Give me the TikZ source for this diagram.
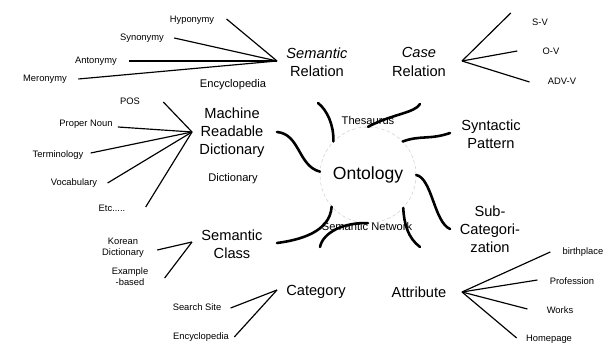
\documentclass[tikz,border=0pt]{standalone}
\usepackage{fontspec}
\setmainfont{Liberation Sans}
\usetikzlibrary{calc}

\begin{document}
\begin{tikzpicture}[
  x=0.03cm, y=-0.03cm,
  major/.style = {align=center, inner sep=1pt,
                  font=\fontsize{12.5}{15.5}\selectfont},
  core/.style  = {circle, draw=black!25, densely dashed, line width=0.3pt,
                  minimum size=2.88cm, inner sep=0pt,
                  font=\fontsize{15}{18}\selectfont},
  src/.style   = {inner sep=1pt, font=\fontsize{9.5}{11}\selectfont},
  leaf/.style  = {inner sep=1pt, align=center,
                  font=\fontsize{8}{9.5}\selectfont},
  spoke/.style = {line width=1pt},
  wave/.style  = {line width=2.2pt, line cap=round},
]
\useasboundingbox (0,0) rectangle (616,347);

% centre and sources
\node[core] (onto)   at (368,175) {Ontology};
\node[src]  (thes)   at (368,121) {Thesaurus};
\node[src]  (semnet) at (367,227) {Semantic Network};
\node[src]  (encyc)  at (233,85)  {Encyclopedia};
\node[src]  (dict)   at (233,179) {Dictionary};

% categories
\node[major] (semrel) at (317,62)  {\textit{Semantic}\\Relation};
\node[major] (case)   at (419,62)  {\textit{Case}\\Relation};
\node[major] (mrd)    at (232,133) {Machine\\Readable\\Dictionary};
\node[major] (synt)   at (491,134) {Syntactic\\Pattern};
\node[major] (subcat) at (490,229) {Sub-\\Categori-\\zation};
\node[major] (semcls) at (232,244) {Semantic\\Class};
\node[major] (cat)    at (316,292) {Category};
\node[major] (attr)   at (419,292) {Attribute};

% leaves
\node[leaf] (hypo)  at (192,20)  {Hyponymy};
\node[leaf] (syno)  at (142,38)  {Synonymy};
\node[leaf] (anto)  at (96,61)   {Antonymy};
\node[leaf] (mero)  at (45,79)   {Meronymy};
\node[leaf] (sv)    at (540,22)  {S-V};
\node[leaf] (ov)    at (551,51)  {O-V};
\node[leaf] (advv)  at (562,81)  {ADV-V};
\node[leaf] (pos)   at (130,101) {POS};
\node[leaf] (pnoun) at (86,124)  {Proper Noun};
\node[leaf] (term)  at (58,155)  {Terminology};
\node[leaf] (vocab) at (74,183)  {Vocabulary};
\node[leaf] (etc)   at (112,208) {Etc.....};
\node[leaf] (kdict) at (123,248) {Korean\\Dictionary};
\node[leaf] (exb)   at (130,277) {Example\\-based};
\node[leaf] (srch)  at (197,307) {Search Site};
\node[leaf] (encyc2) at (201,337) {Encyclopedia};
\node[leaf] (birth) at (583,252) {birthplace};
\node[leaf] (prof)  at (572,281) {Profession};
\node[leaf] (works) at (560,310) {Works};
\node[leaf] (home)  at (549,339) {Homepage};

% hubs
\coordinate (semrel-hub) at (277,61);
\coordinate (case-hub)   at (462,61);
\coordinate (mrd-hub)    at (192,132);
\coordinate (semcls-hub) at (192,242);
\coordinate (cat-hub)    at (277,290);
\coordinate (attr-hub)   at (462,292);

\draw[spoke] (semrel-hub) -- ($(hypo.east)+(11,-1)$);
\draw[spoke] (semrel-hub) -- ($(syno.east)+(9,0)$);
\draw[spoke] (semrel-hub) -- ($(anto.east)+(11,0)$);
\draw[spoke] (semrel-hub) -- ($(mero.east)+(10,0)$);

\draw[spoke] (case-hub) -- ($(sv.west)+(-20,-9)$);
\draw[spoke] (case-hub) -- ($(ov.west)+(-24,0)$);
\draw[spoke] (case-hub) -- ($(advv.west)+(-17,1)$);

\draw[spoke] (mrd-hub) -- ($(pos.east)+(22,1)$);
\draw[spoke] (mrd-hub) -- ($(pnoun.east)+(4,3)$);
\draw[spoke] (mrd-hub) -- ($(term.east)+(6,-2)$);
\draw[spoke] (mrd-hub) -- ($(vocab.east)+(9,0)$);
\draw[spoke] (mrd-hub) -- ($(etc.east)+(19,-1)$);

\draw[spoke] (semcls-hub) -- ($(kdict.east)+(12,2)$);
\draw[spoke] (semcls-hub) -- ($(exb.east)+(15,1)$);

\draw[spoke] (cat-hub) -- ($(srch.east)+(8,1)$);
\draw[spoke] (cat-hub) -- ($(encyc2.east)+(4,0)$);

\draw[spoke] (attr-hub) -- ($(birth.west)+(-11,0)$);
\draw[spoke] (attr-hub) -- ($(prof.west)+(-11,-1)$);
\draw[spoke] (attr-hub) -- ($(works.west)+(-18,-1)$);
\draw[spoke] (attr-hub) -- ($(home.west)+(-8,-1)$);

% hand drawn links to the ontology
\coordinate (w-semrel) at (318,103);
\coordinate (w-case)   at (420,104);
\coordinate (w-synt)   at (450,133);
\coordinate (w-subcat) at (450,229);
\coordinate (w-mrd)    at (277,132);
\coordinate (w-semcls) at (277,243);
\coordinate (w-cat)    at (320,247);
\coordinate (w-attr)   at (420,247);

\draw[wave] (w-semrel) .. controls (327,110) and (334,125) .. (onto.136);
\draw[wave] (w-case) .. controls (415,113) and (392,114) .. (onto.90);
\draw[wave] (onto.44) .. controls (420,135) and (430,140) .. (w-synt);
\draw[wave] (onto.0) .. controls (432,178) and (434,222) .. (w-subcat);
\draw[wave] (w-mrd) .. controls (300,134) and (298,166) .. (onto.176);
\draw[wave] (onto.221) .. controls (330,232) and (300,240) .. (w-semcls);
\draw[wave] (w-cat) .. controls (323,232) and (345,222) .. (onto.270);
\draw[wave] (onto.317) .. controls (404,224) and (408,238) .. (w-attr);
\end{tikzpicture}
\end{document}
